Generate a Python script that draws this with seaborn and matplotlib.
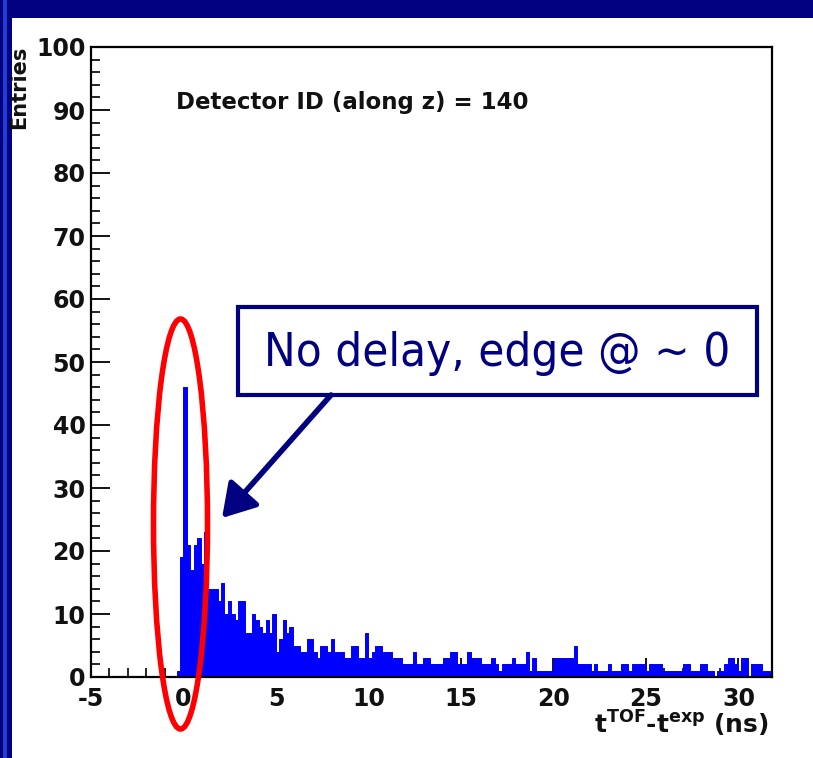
import numpy as np
import pandas as pd
import matplotlib
matplotlib.use("Agg")
import matplotlib.pyplot as plt
import seaborn as sns
from matplotlib.patches import Rectangle, Ellipse, FancyArrowPatch
from matplotlib.ticker import MultipleLocator

# Histogram of t_TOF - t_exp (ns): equal-width bins, counts per bin
bin_width = 0.185
first_edge = -0.375          # left edge of the first listed bin
x_range = (-5.0, 31.815)
entries = [
    1, 19, 46, 21, 17, 21, 22, 18, 23, 14,
    14, 14, 12, 15, 10, 12, 10, 9, 12, 12,
    7, 7, 10, 9, 8, 7, 9, 7, 10, 4,
    6, 9, 7, 8, 5, 5, 4, 4, 6, 6,
    4, 3, 5, 5, 4, 6, 4, 4, 4, 3,
    3, 5, 5, 3, 3, 7, 3, 4, 5, 5,
    4, 4, 4, 3, 3, 3, 2, 2, 2, 4,
    2, 2, 3, 3, 2, 2, 2, 2, 3, 3,
    4, 4, 2, 2, 2, 4, 3, 3, 3, 2,
    2, 2, 3, 2, 1, 2, 2, 2, 3, 2,
    2, 2, 4, 1, 3, 1, 1, 1, 1, 1,
    3, 3, 3, 3, 3, 3, 5, 2, 2, 2,
    2, 1, 2, 1, 1, 1, 2, 1, 1, 1,
    2, 2, 1, 2, 2, 2, 2, 1, 2, 2,
    2, 2, 1, 1, 1, 1, 1, 1, 2, 2,
    1, 1, 1, 2, 2, 1, 1, 0, 1, 1,
    2, 3, 3, 2, 1, 3, 3, 0, 2, 2,
    2, 1, 1, 1,
]
y_ticks = [0, 10, 20, 30, 40, 50, 60, 70, 80, 90, 100]
x_ticks = [-5, 0, 5, 10, 15, 20, 25, 30]

detector_text = "Detector ID (along z) = 140"
callout_text = "No delay, edge @ ~ 0"

counts = np.asarray(entries, dtype=float)
edges = first_edge + bin_width * np.arange(len(counts) + 1)
centers = 0.5 * (edges[:-1] + edges[1:])
hist_df = pd.DataFrame({"t": centers, "n": counts})

sns.set_theme(style="white")
plt.rcParams["font.family"] = ["DejaVu Sans"]
plt.rcParams["axes.unicode_minus"] = False
plt.rcParams["mathtext.fontset"] = "dejavusans"
plt.rcParams["mathtext.default"] = "bf"

W, H = 813, 758
fig = plt.figure(figsize=(W / 100, H / 100), dpi=100)
fig.patch.set_facecolor("white")

NAVY = "#000080"
INK = "#111111"


def fx(px):
    return px / W


def fy(py):
    return 1 - py / H


# slide frame: navy band on top and on the left
fig.add_artist(Rectangle((0, fy(18)), 1, 18 / H, transform=fig.transFigure,
                         facecolor=NAVY, edgecolor="none", zorder=0))
fig.add_artist(Rectangle((0, 0), fx(12), 1, transform=fig.transFigure,
                         facecolor=NAVY, edgecolor="none", zorder=0))
fig.add_artist(Rectangle((fx(3), 0), fx(4), 1, transform=fig.transFigure,
                         facecolor="#1f3fd0", edgecolor="none", zorder=0))

ax = fig.add_axes([fx(91), fy(677), (772 - 91) / W, (677 - 47) / H])
sns.histplot(data=hist_df, x="t", weights="n", bins=list(edges),
             element="step", fill=True, color="#0000ff", alpha=1.0,
             linewidth=0.7, ax=ax)

ax.set_xlim(*x_range)
ax.set_ylim(0, 100)
ax.set_xlabel("")
ax.set_ylabel("")
ax.set_xticks(x_ticks)
ax.set_yticks(y_ticks)
ax.xaxis.set_minor_locator(MultipleLocator(1))
ax.yaxis.set_minor_locator(MultipleLocator(2))
ax.tick_params(which="major", direction="in", length=14, width=1.3,
               color="black", bottom=True, left=True, top=False, right=False,
               labelsize=17)
ax.tick_params(which="minor", direction="in", length=6.5, width=1.2,
               color="black", bottom=True, left=True, top=False, right=False)
ax.tick_params(axis="x", which="major", pad=7)
ax.tick_params(axis="y", which="major", pad=4)
for lab in ax.get_xticklabels() + ax.get_yticklabels():
    lab.set_fontweight("bold")
    lab.set_color(INK)
for sp in ax.spines.values():
    sp.set_color("black")
    sp.set_linewidth(1.6)
ax.grid(False)

fig.text(fx(19), fy(46), "Entries", rotation=90, ha="center", va="top",
         fontsize=15, fontweight="bold", color=INK)
fig.text(fx(176), fy(103), detector_text, ha="left", va="center",
         fontsize=16.5, fontweight="bold", color=INK)
fig.text(fx(769), fy(724), r"t$^{TOF}$-t$^{exp}$ (ns)", ha="right", va="center",
         fontsize=18, fontweight="bold", color=INK)

# red ring around the leading edge
fig.add_artist(Ellipse((fx(180.5), fy(524)), 54 / W, 410 / H,
                       transform=fig.transFigure, fill=False,
                       edgecolor="#ff0000", linewidth=4.0, zorder=5))

# callout box with arrow
fig.add_artist(Rectangle((fx(238), fy(395)), (757 - 238) / W, (395 - 307) / H,
                         transform=fig.transFigure, facecolor="white",
                         edgecolor=NAVY, linewidth=3, zorder=6))
fig.text(fx(497.5), fy(354), callout_text, ha="center", va="center",
         fontsize=34, color=NAVY, family=["DejaVu Sans"], fontstretch="condensed",
         zorder=7)
fig.add_artist(FancyArrowPatch((fx(331), fy(395)), (fx(222), fy(518)),
                               transform=fig.transFigure,
                               arrowstyle="-|>,head_length=0.9,head_width=0.55",
                               mutation_scale=22, color=NAVY, linewidth=4,
                               shrinkA=0, shrinkB=0, zorder=6))

fig.savefig("out.png", dpi=100)
